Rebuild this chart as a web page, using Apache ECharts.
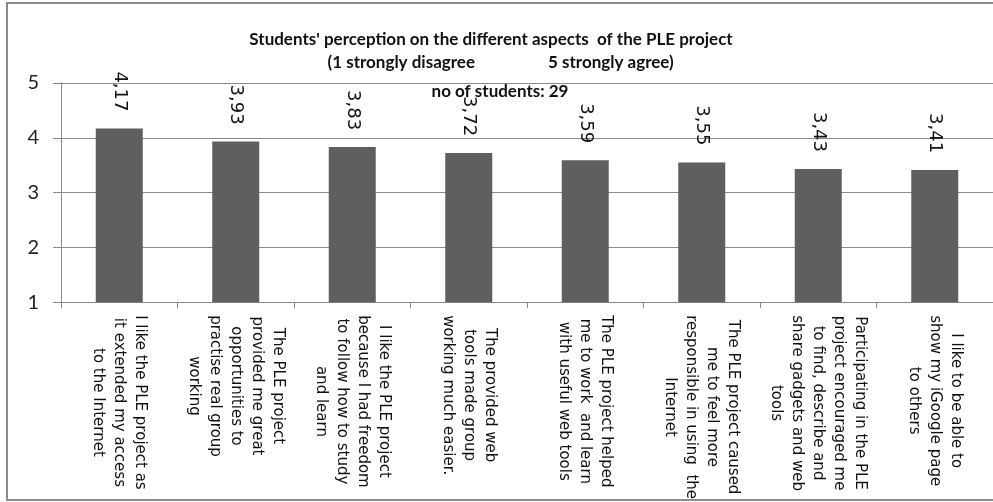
<!DOCTYPE html>
<html><head><meta charset="utf-8">
<script src="https://cdn.jsdelivr.net/npm/echarts@6/dist/echarts.min.js"></script>
<style>html,body{margin:0;padding:0;background:#fff}#c{width:993px;height:502px}</style>
</head><body><div id="c"></div>
<script>
const categories = [
  "I like the PLE project as\nit extended my access\nto the Internet",
  "The PLE project\nprovided me great\nopportunities to\npractise real group\nworking",
  "I like the PLE project\nbecause I had freedom\nto follow how to study\nand learn",
  "The provided web\ntools made group\nworking much easier.",
  "The PLE project helped\nme to work  and learn\nwith useful web tools",
  "The PLE project caused\nme to feel more\nresponsible in using  the\nInternet",
  "Participating in the PLE\nproject encouraged me\nto find, describe and\nshare gadgets and web\ntools",
  "I like to be able to\nshow my iGoogle page\nto others"
];
const values = [4.17, 3.93, 3.83, 3.72, 3.59, 3.55, 3.43, 3.41];
const yMin = 1, yMax = 5, yStep = 1;
const titleText = "Students' perception on the different aspects  of the PLE project";
const scaleLow = "(1 strongly disagree";
const scaleHigh = "5 strongly agree)";
const studentsText = "no of students: 29";

const chart = echarts.init(document.getElementById('c'), null, {renderer: 'canvas'});
const gray = '#8a8a8a';
const labelFont = 'DejaVu Sans';
const titleFont = {fontFamily: 'Lato', fontWeight: 'bold', fontSize: 17, fill: '#111'};
chart.setOption({
  animation: false,
  backgroundColor: '#fff',
  grid: {left: 61, right: -4, top: 83, bottom: 195},
  xAxis: {
    type: 'category', data: categories,
    axisLine: {lineStyle: {color: gray, width: 1}},
    axisTick: {show: true, length: 6, lineStyle: {color: gray}},
    axisLabel: {
      interval: 0, rotate: -90, margin: 13,
      fontFamily: labelFont, fontSize: 15, color: '#111',
      formatter: v => v.split('\n').map(l => '{c|' + l + '}').join('\n'),
      rich: {c: {align: 'center', fontFamily: labelFont, fontSize: 15, lineHeight: 21, color: '#111'}}
    }
  },
  yAxis: {
    type: 'value', min: yMin, max: yMax, interval: yStep,
    axisLine: {show: true, lineStyle: {color: gray}},
    axisTick: {show: true, length: 8, lineStyle: {color: gray}},
    splitLine: {lineStyle: {color: gray}},
    axisLabel: {margin: 22, fontFamily: 'Lato', fontSize: 20, color: '#222'}
  },
  series: [{
    type: 'bar', data: values, barWidth: 47,
    itemStyle: {color: '#5f5f5f'},
    label: {
      show: true, position: 'top', rotate: -90, align: 'right', verticalAlign: 'middle', distance: 17,
      formatter: p => p.value.toFixed(2).replace('.', ','),
      fontFamily: labelFont, fontSize: 18, color: '#111'
    }
  }],
  graphic: [
    {type: 'rect', silent: true, z: -10, shape: {x: 7, y: 3, width: 1000, height: 497},
     style: {fill: null, stroke: gray, lineWidth: 2}},
    {type: 'text', z: 100, x: 491, y: 40,
     style: Object.assign({text: titleText, align: 'center', verticalAlign: 'middle'}, titleFont)},
    {type: 'text', z: 100, x: 475, y: 63,
     style: Object.assign({text: scaleLow, align: 'right', verticalAlign: 'middle'}, titleFont)},
    {type: 'text', z: 100, x: 548, y: 63,
     style: Object.assign({text: scaleHigh, align: 'left', verticalAlign: 'middle'}, titleFont)},
    {type: 'text', z: 100, x: 500, y: 92,
     style: Object.assign({text: studentsText, align: 'center', verticalAlign: 'middle'}, titleFont)}
  ]
});
</script></body></html>
